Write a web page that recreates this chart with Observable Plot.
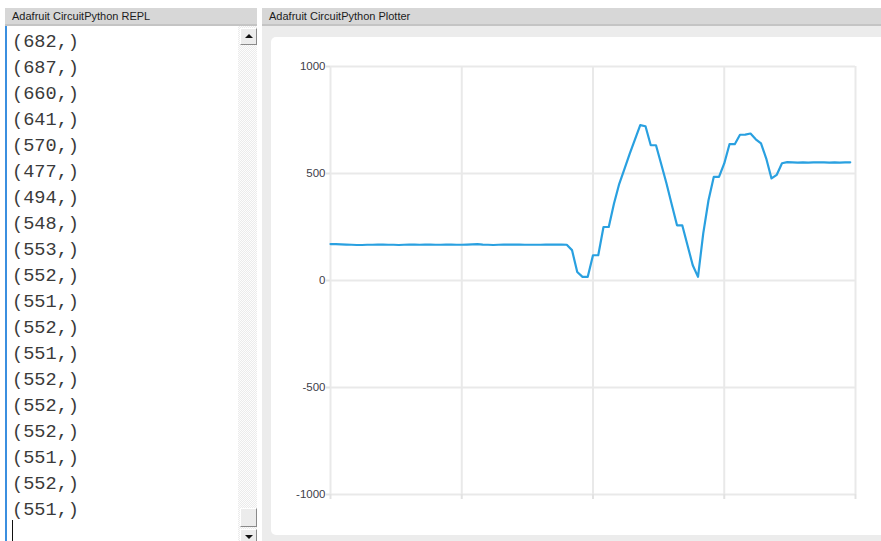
<!DOCTYPE html>
<html>
<head>
<meta charset="utf-8">
<script src="https://cdn.jsdelivr.net/npm/d3@7"></script>
<script src="https://cdn.jsdelivr.net/npm/@observablehq/plot@0.6"></script>
<style>
html, body { margin:0; padding:0; width:881px; height:541px; overflow:hidden; background:#fff; }
.hdr { position:absolute; top:8px; height:18px; background:#d7d7d7; border-bottom:2px solid #c4c4c4; box-sizing:border-box;
       font:11px "Liberation Sans", Arial, sans-serif; color:#1c1c1c; line-height:16px; padding-left:7px; white-space:nowrap; }
#replPane { position:absolute; left:5px; top:26px; width:233px; height:515px; background:#fff; border-left:2px solid #3b8fdf; box-sizing:border-box; }
#repl { position:absolute; left:5px; top:4px; margin:0; font:18.6px "Liberation Mono", "Courier New", monospace; line-height:26px; color:#3a3a3a; }
#cursor { position:absolute; left:5px; top:494px; width:1px; height:21px; background:#111; }
#track { position:absolute; left:238px; top:26px; width:19px; height:515px;
         background-image: repeating-conic-gradient(#ebebeb 0 25%, #fdfdfd 0 50%); background-size:2px 2px; }
.btn { position:absolute; left:240px; width:17px; background:#ececec; box-sizing:border-box;
       border-top:1px solid #fff; border-left:1px solid #fff; border-right:1px solid #8a8a8a; border-bottom:1px solid #8a8a8a; }
.tri-up { position:absolute; left:4px; width:0; height:0; border-left:4px solid transparent; border-right:4px solid transparent; border-bottom:4px solid #111; }
.tri-dn { position:absolute; left:4px; width:0; height:0; border-left:4px solid transparent; border-right:4px solid transparent; border-top:4px solid #111; }
#plotBg { position:absolute; left:262px; top:26px; width:619px; height:515px; background:#ececec; }
#plotPanel { position:absolute; left:271px; top:37px; width:630px; height:498px; background:#fff; border-radius:5px; }
#chart { position:absolute; left:270px; top:37px; }
</style>
</head>
<body>
<div class="hdr" style="left:5px; width:252px;" id="hdrL"></div>
<div class="hdr" style="left:262px; width:619px;" id="hdrR"></div>
<div id="replPane"><pre id="repl"></pre><div id="cursor"></div></div>
<div id="track"></div>
<div class="btn" style="top:28px; height:17px;"><div class="tri-up" style="top:5px;"></div></div>
<div class="btn" style="top:508px; height:19px;"></div>
<div class="btn" style="top:529px; height:16px;"><div class="tri-dn" style="top:5px;"></div></div>
<div id="plotBg"></div>
<div id="plotPanel"></div>
<div id="chart"></div>
<script>
// ---- data ----
const replTitle = "Adafruit CircuitPython REPL";
const plotterTitle = "Adafruit CircuitPython Plotter";
const replValues = [682, 687, 660, 641, 570, 477, 494, 548, 553, 552, 551, 552, 551, 552, 552, 552, 551, 552, 551];
const samples = [
  170, 170, 169, 168, 167, 166, 166, 167, 167, 168,
  168, 167, 167, 166, 167, 168, 168, 167, 168, 168,
  167, 167, 168, 168, 167, 167, 168, 169, 170, 168,
  167, 166, 167, 168, 168, 168, 168, 167, 167, 167,
  167, 168, 168, 168, 168, 167, 142, 40, 17, 17,
  118, 118, 250, 250, 360, 452, 522, 593, 660, 726,
  721, 632, 632, 543, 453, 355, 258, 258, 165, 71,
  17, 220, 375, 484, 484, 547, 637, 637, 681, 682,
  687, 660, 641, 570, 477, 494, 548, 553, 552, 551,
  552, 551, 552, 552, 552, 551, 552, 551, 552, 552
];
const yTicks = [-1000, -500, 0, 500, 1000];
const xTicks = [0, 25, 50, 75, 100];

// ---- panels ----
document.getElementById("hdrL").textContent = replTitle;
document.getElementById("hdrR").textContent = plotterTitle;
document.getElementById("repl").textContent = replValues.map(v => `(${v},)`).join("\n");

// ---- chart ----
const chart = Plot.plot({
  width: 610,
  height: 500,
  marginLeft: 60,
  marginRight: 25,
  marginTop: 29,
  marginBottom: 43,
  style: { background: "transparent", fontFamily: "Liberation Sans, Arial, sans-serif", fontSize: "11.5px" },
  x: { domain: [0, 100] },
  y: { domain: [-1000, 1000] },
  marks: [
    Plot.gridY(yTicks, { stroke: "#e9e9e9", strokeOpacity: 1, strokeWidth: 2 }),
    Plot.gridX(xTicks, { stroke: "#e9e9e9", strokeOpacity: 1, strokeWidth: 2 }),
    Plot.axisY(yTicks, { tickSize: 4, tickPadding: 1, stroke: "#e2e2e2", strokeWidth: 2, fill: "#40404a", tickFormat: d => String(d) }),
    Plot.axisX(xTicks, { tickSize: 5, stroke: "#e2e2e2", strokeWidth: 2, tickFormat: () => "" }),
    Plot.line(samples, { x: (d, i) => i, y: d => d, stroke: "#29a0e0", strokeWidth: 2.2 })
  ]
});
document.getElementById("chart").appendChild(chart);
</script>
</body>
</html>
